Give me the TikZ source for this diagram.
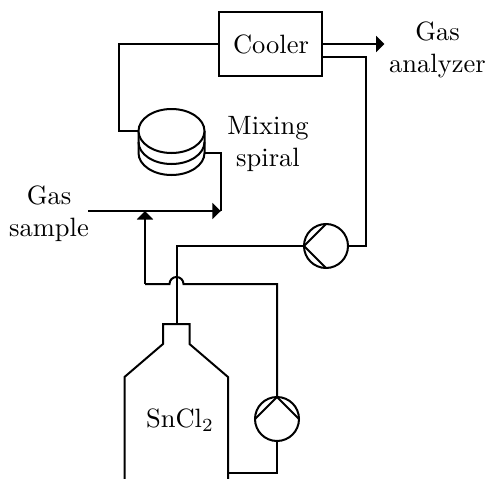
\documentclass[tikz,border=0pt]{standalone}
\usetikzlibrary{arrows.meta}
\tikzset{
  pipe/.style={line width=2pt,line join=miter},
  flow/.style={pipe,-{Triangle[length=8.5pt,width=16pt]}},
  label/.style={align=center,inner sep=0pt,scale=2.65,font=\fontsize{10}{12}\selectfont},
  pumpbody/.style={circle,draw,line width=2pt,minimum size=44pt,inner sep=0pt,outer sep=0pt},
  boxnode/.style={rectangle,draw,line width=2pt,minimum width=103.5pt,minimum height=64pt,inner sep=0pt,outer sep=0pt},
}
\begin{document}
\begin{tikzpicture}[x=1pt,y=-1pt]
\useasboundingbox (0,0) rectangle (485,479);
% nodes
\node[boxnode] (cooler) at (270.3,44) {\hspace{1.5pt}\scalebox{2.65}{\fontsize{10}{12}\selectfont Cooler}};
\node[pumpbody] (pumpA) at (326,246) {};
\node[pumpbody] (pumpB) at (277,419) {};
\node[label] (gasout) at (437.5,50) {Gas\\analyzer};
\node[label] (mix) at (268,144) {Mixing\\spiral};
\node[label] (gasin) at (49,213.5) {Gas\\sample};
\node[label] (sn) at (180,420) {SnCl$_2$};
% mixing spiral
\coordinate (spL) at (138.5,131);
\coordinate (spR) at (204.5,153);
\draw[pipe] (138.5,131) -- (138.5,153) arc[start angle=180,end angle=0,x radius=33,y radius=22] -- (204.5,131);
\draw[pipe] (138.5,142) arc[start angle=180,end angle=0,x radius=33,y radius=22];
\draw[pipe,fill=white] (171.5,131) ellipse[x radius=33,y radius=22];
% connectors
\coordinate (c1) at (119,44);
\coordinate (c2) at (119,131);
\draw[pipe] (cooler.west |- c1) -- (c1) -- (c2) -- (spL);
\coordinate (c3) at (220.5,153);
\coordinate (tipIn) at (220.8,211);
\draw[pipe] (spR) -- (c3) -- (c3 |- tipIn);
\coordinate (gasStart) at (88,211);
\draw[flow] (gasStart) -- (tipIn);
\coordinate (tipOut) at (384.5,44);
\draw[flow] (cooler.east |- tipOut) -- (tipOut);
\coordinate (c4) at (322,57);
\coordinate (c5) at (366,57);
\draw[pipe] (c4) -- (c5) -- (c5 |- pumpA) -- (pumpA.east);
% pump A
\draw[pipe] (pumpA.north) -- (pumpA.west) -- (pumpA.south);
% pump B
\draw[pipe] (pumpB.west) -- (pumpB.north) -- (pumpB.east);
% bottle
\coordinate (neck) at (176.5,324);
\draw[pipe] (124.5,479) -- (124.5,377) -- (163,344) -- (163,324) -- (189.5,324) -- (189.5,344) -- (228,377) -- (228,479);
\draw[pipe] (pumpA.west) -- (neck |- pumpA) -- (neck);
% pump B to bottle
\coordinate (c6) at (228,473);
\draw[pipe] (c6) -- (pumpB.south |- c6) -- (pumpB.south);
% return with hop
\coordinate (c7) at (277,284);
\coordinate (c8) at (145,284);
\coordinate (tipUp) at (145,211);
\draw[pipe] (pumpB.north) -- (c7) -- (183.5,284) arc[start angle=0,end angle=-180,radius=7] -- (c8);
\draw[flow] (c8) -- (tipUp);
\end{tikzpicture}
\end{document}
